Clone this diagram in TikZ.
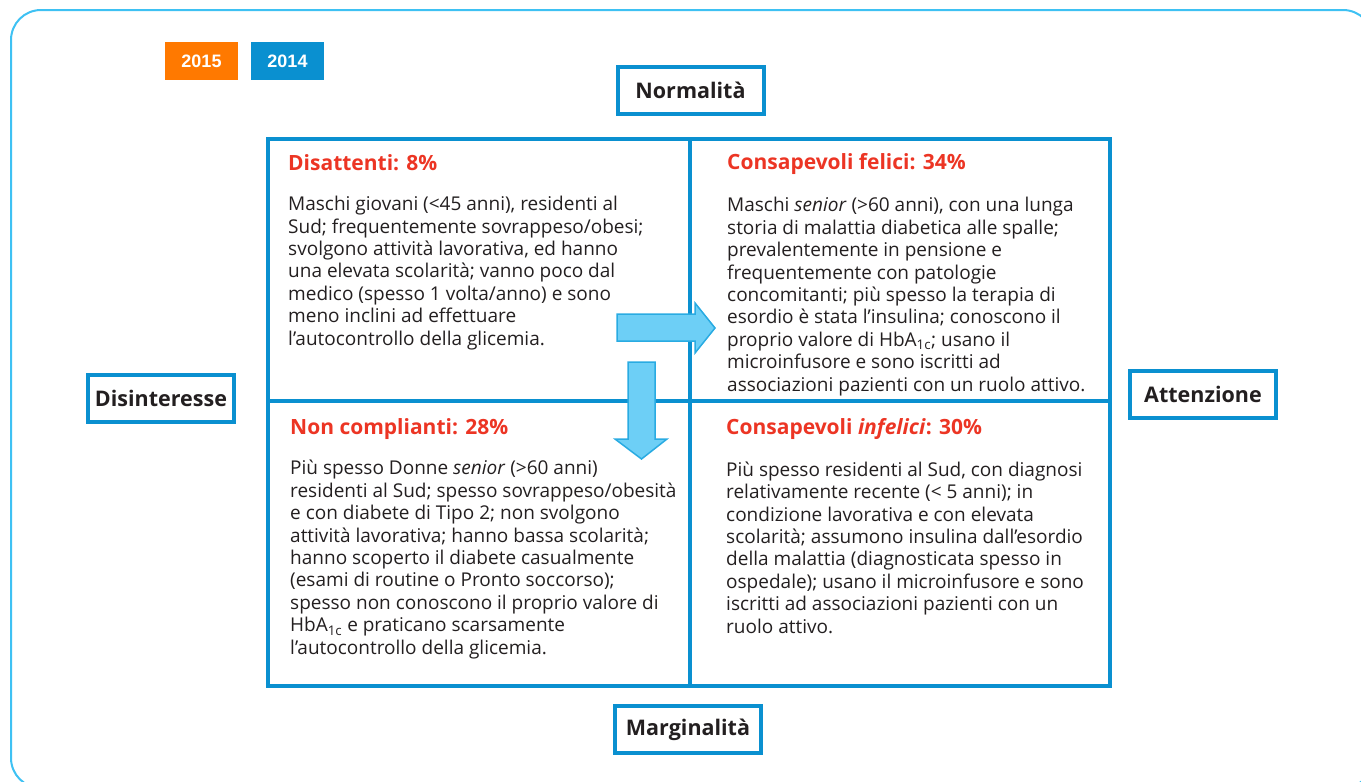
\documentclass[tikz,border=0pt]{standalone}
\usepackage{fontspec}
\setmainfont{Open Sans}
\newfontfamily\yearfont{Liberation Sans}
\usetikzlibrary{positioning}

\definecolor{gridblue}{RGB}{10,144,208}
\definecolor{frameblue}{RGB}{62,193,243}
\definecolor{arrowfill}{RGB}{109,207,246}
\definecolor{arrowline}{RGB}{41,171,226}
\definecolor{headred}{RGB}{236,53,36}
\definecolor{inkgrey}{RGB}{35,31,32}
\definecolor{yearorange}{RGB}{255,121,0}

\begin{document}
\begin{tikzpicture}[x=1pt, y=-1pt,
    quad/.style={draw=gridblue, line width=4pt, minimum width=#1, inner sep=0pt},
    axislabel/.style={draw=gridblue, line width=4pt, fill=white, minimum width=146pt, minimum height=47pt,
        inner sep=0pt, text=inkgrey, font=\fontsize{21.5}{24}\selectfont\bfseries},
    yearbox/.style={fill=#1, minimum width=73pt, minimum height=38pt, inner sep=0pt,
        text=white, font=\yearfont\fontsize{18}{20}\selectfont\bfseries},
    heading/.style={anchor=base west, inner sep=0pt, text=headred, font=\fontsize{21}{24}\selectfont\bfseries},
    body/.style={anchor=base west, inner sep=0pt, align=left, text=inkgrey, font=\fontsize{19}{22.4}\selectfont}, % base = last line
    blockarrow/.style={fill=arrowfill, draw=arrowline, line width=1.5pt, line join=miter}]
    \useasboundingbox (0,0) rectangle (1361,782);
    \begin{scope}
        \clip (0,0) rectangle (1361,782);
        \draw[frameblue, line width=2pt, rounded corners=30pt] (11,10) rectangle (1373,788);
    \end{scope}

    % legend
    \node[yearbox=yearorange] (y2015) at (201.5,61) {2015};
    \node[yearbox=gridblue] (y2014) at (287.5,61) {2014};

    % quadrants
    \node[quad=422pt, minimum height=262pt] (nw) at (479,270) {};
    \node[quad=420pt, minimum height=262pt] (ne) at (900,270) {};
    \node[quad=422pt, minimum height=285pt] (sw) at (479,543.5) {};
    \node[quad=420pt, minimum height=285pt] (se) at (900,543.5) {};

    % axis labels
    \node[axislabel] (normal) at (690.5,90.5) {Normalità};
    \node[axislabel] (disint) at (161,398.5) {Disinteresse};
    \node[axislabel] (atten) at (1203,394.5) {Attenzione};
    \node[axislabel] (margin) at (688,729.5) {Marginalità};

    % top left
    \node[heading] (nwhead) at (288,170) {Disattenti: 8\%};
    \node[body] (nwtext) at (288,345) {Maschi giovani (<45 anni), residenti al\\
        Sud; frequentemente sovrappeso/obesi;\\
        svolgono attività lavorativa, ed hanno\\
        una elevata scolarità; vanno poco dal\\
        medico (spesso 1 volta/anno) e sono\\
        meno inclini ad effettuare\\
        l'autocontrollo della glicemia.};

    % top right
    \node[heading] (nehead) at (727,169) {Consapevoli felici: 34\%};
    \node[body] (netext) at (727,391) {Maschi \textit{senior} (>60 anni), con una lunga\\
        storia di malattia diabetica alle spalle;\\
        prevalentemente in pensione e\\
        frequentemente con patologie\\
        concomitanti; più spesso la terapia di\\
        esordio è stata l'insulina; conoscono il\\
        proprio valore di HbA\textsubscript{1c}; usano il\\
        microinfusore e sono iscritti ad\\
        associazioni pazienti con un ruolo attivo.};

    % bottom left
    \node[heading] (swhead) at (290,434) {Non complianti: 28\%};
    \node[body] (swtext) at (290,654) {Più spesso Donne \textit{senior} (>60 anni)\\
        residenti al Sud; spesso sovrappeso/obesità\\
        e con diabete di Tipo 2; non svolgono\\
        attività lavorativa; hanno bassa scolarità;\\
        hanno scoperto il diabete casualmente\\
        (esami di routine o Pronto soccorso);\\
        spesso non conoscono il proprio valore di\\
        HbA\textsubscript{1c} e praticano scarsamente\\
        l'autocontrollo della glicemia.};

    % bottom right
    \node[heading] (sehead) at (726,434) {Consapevoli \textit{infelici}: 30\%};
    \node[body] (setext) at (726,633) {Più spesso residenti al Sud, con diagnosi\\
        relativamente recente (< 5 anni); in\\
        condizione lavorativa e con elevata\\
        scolarità; assumono insulina dall'esordio\\
        della malattia (diagnosticata spesso in\\
        ospedale); usano il microinfusore e sono\\
        iscritti ad associazioni pazienti con un\\
        ruolo attivo.};

    % block arrows
    \draw[blockarrow] (617,314) -- (695,314) -- (695,303) -- (715,328) -- (695,353) -- (695,341) -- (617,341) -- cycle;
    \draw[blockarrow] (628,362) -- (655,362) -- (655,439) -- (667,439) -- (641.5,459) -- (615,439) -- (628,439) -- cycle;
\end{tikzpicture}
\end{document}
